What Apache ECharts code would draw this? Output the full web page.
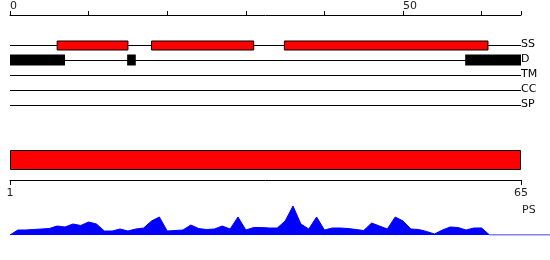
<!DOCTYPE html>
<html>
<head>
<meta charset="utf-8">
<script src="https://cdn.jsdelivr.net/npm/echarts@6/dist/echarts.min.js"></script>
<style>
html,body{margin:0;padding:0;background:#fff;}
#c{width:550px;height:260px;}
</style>
</head>
<body>
<div id="c"></div>
<script>
// ---- data ----
const trackNames = ['SS', 'D', 'TM', 'CC', 'SP'];
const rulerMin = 0;
const rulerMax = 65;
const rulerLabelValues = [0, 50];
const ssRegions = [[6, 15], [18, 31], [34.9, 60.8]];
const dRegions = [[0, 7], [14.9, 16], [57.9, 65]];
const psRegion = [1, 65];
const psTickValues = [1, 65];
const psName = 'PS';
const psProfile = [0, 5, 5, 5.5, 6, 6.5, 9, 8, 11, 9.5, 13, 11, 4, 4, 6, 4, 6, 7, 14, 18,
  4, 4.5, 5, 10, 6.5, 5.5, 6, 9, 6, 18, 5, 7.5, 7.5, 7, 7, 14, 29, 11, 6, 18,
  5, 7, 7, 6.5, 5.5, 4.5, 12, 9, 6, 18, 14, 6, 5.5, 3.5, 1, 5, 8, 7.5, 5, 7,
  7, 0, 0, 0, 0, 0, 0, 0, 0, 0];

// ---- chart ----
const FONT = 'DejaVu Sans';
const chart = echarts.init(document.getElementById('c'), null, {renderer: 'canvas'});

const trackLines = trackNames.map((n, i) => [rulerMin, rulerMax, i]);
const ssData = ssRegions.map(r => [r[0], r[1], 0]);
const dData = dRegions.map(r => [r[0], r[1], 1]);

function lineItem(params, api) {
  const a = api.coord([api.value(0), api.value(2)]);
  const b = api.coord([api.value(1), api.value(2)]);
  const y = Math.round(a[1]) + 0.5;
  return {type: 'line', shape: {x1: a[0], y1: y, x2: b[0], y2: y},
          style: {stroke: '#000', lineWidth: 1}};
}
function boxItem(fill, stroke, h) {
  return function (params, api) {
    const a = api.coord([api.value(0), api.value(2)]);
    const b = api.coord([api.value(1), api.value(2)]);
    const y = Math.round(a[1]);
    return {type: 'rect',
      shape: {x: a[0], y: y - h / 2 + (stroke ? 0.5 : 0), width: b[0] - a[0], height: h},
      style: {fill: fill, stroke: stroke, lineWidth: stroke ? 1 : 0}};
  };
}

const xMaxProfile = rulerMin + (rulerMax - rulerMin) * 540 / 511;

chart.setOption({
  animation: false,
  backgroundColor: '#fff',
  textStyle: {fontFamily: FONT},
  grid: [
    {left: 10, width: 511, top: 37, height: 75},
    {left: 10, width: 511, top: 150, height: 30},
    {left: 10, width: 540, top: 200, height: 35}
  ],
  xAxis: [
    {gridIndex: 0, type: 'value', position: 'top', offset: 22, min: rulerMin, max: rulerMax, interval: 10,
     axisLine: {show: true, lineStyle: {color: '#000', width: 1}},
     axisTick: {show: true, length: 4, lineStyle: {color: '#000'}},
     axisLabel: {customValues: rulerLabelValues, align: 'left', margin: 3, fontSize: 11, color: '#222', fontFamily: FONT},
     splitLine: {show: false}},
    {gridIndex: 1, type: 'value', position: 'bottom', min: psRegion[0], max: psRegion[1],
     axisLine: {show: true, lineStyle: {color: '#000', width: 1}},
     axisTick: {show: true, customValues: psTickValues, length: 5, lineStyle: {color: '#000'}},
     axisLabel: {customValues: psTickValues, margin: 8, fontSize: 11, color: '#222', fontFamily: FONT},
     splitLine: {show: false}},
    {gridIndex: 2, type: 'value', min: rulerMin, max: xMaxProfile, show: false}
  ],
  yAxis: [
    {gridIndex: 0, type: 'category', data: trackNames, inverse: true, position: 'right',
     axisLine: {show: false}, axisTick: {show: false},
     axisLabel: {margin: 0, align: 'left', fontSize: 11, color: '#000', fontFamily: FONT},
     splitLine: {show: false}},
    {gridIndex: 1, type: 'value', min: 0, max: 3, show: false},
    {gridIndex: 2, type: 'value', min: 0, max: 35, show: false}
  ],
  graphic: [
    {type: 'text', left: 522, top: 205, style: {text: psName, font: '11px "DejaVu Sans"', fill: '#222'}}
  ],
  series: [
    {type: 'custom', xAxisIndex: 0, yAxisIndex: 0, renderItem: lineItem, data: trackLines, clip: false},
    {type: 'custom', xAxisIndex: 0, yAxisIndex: 0, renderItem: boxItem('#ff0000', '#000', 9), data: ssData, clip: false},
    {type: 'custom', xAxisIndex: 0, yAxisIndex: 0, renderItem: boxItem('#000', null, 11), data: dData, clip: false},
    {type: 'custom', xAxisIndex: 1, yAxisIndex: 1, clip: false,
     renderItem: function (params, api) {
       const a = api.coord([api.value(0), 3]);
       const b = api.coord([api.value(1), 1]);
       return {type: 'rect', shape: {x: a[0] + 0.5, y: a[1] + 0.5, width: b[0] - a[0] - 1, height: b[1] - a[1] - 1},
               style: {fill: '#ff0000', stroke: '#000', lineWidth: 1}};
     },
     data: [[psRegion[0], psRegion[1]]]},
    {type: 'line', xAxisIndex: 2, yAxisIndex: 2, symbol: 'none', smooth: false,
     lineStyle: {color: '#0000ff', width: 1}, areaStyle: {color: '#0000ff', opacity: 1},
     data: psProfile.map((v, i) => [i, v])}
  ]
});
</script>
</body>
</html>
